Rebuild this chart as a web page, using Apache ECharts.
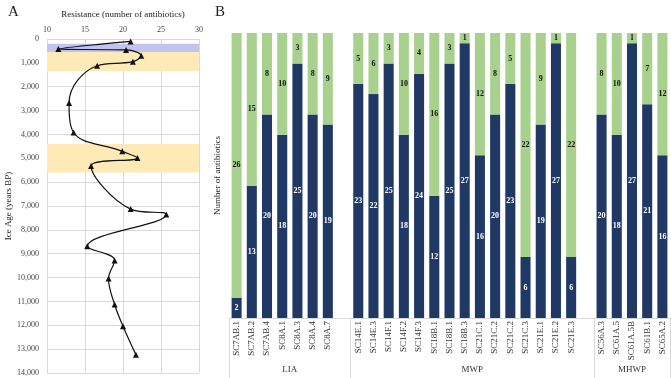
<!DOCTYPE html>
<html lang="en" style="height: 100%">
<head>
<meta charset="utf-8">
<title>Resistance profiles</title>
</head>
<body style="height: 100%; margin: 0">
<div id="container" style="height: 100%"></div>

<script type="text/javascript" src="https://cdn.jsdelivr.net/npm/echarts/dist/echarts.min.js"></script>

<script type="text/javascript">

// Panel A: resistance along the ice core
var resistance = [21, 11.5, 20.4, 22.4, 21.3, 16.6, 12.9, 13.5, 19.9, 21.9, 15.8, 21, 25.7, 15.3, 18.9, 18.1, 18.9, 20, 21.7];
var iceAge = [100, 420, 460, 700, 950, 1120, 2680, 3920, 4710, 4990, 5320, 7130, 7360, 8690, 9280, 10040, 11130, 12040, 13230];
var bandFrom = [200, 550, 4400];
var bandTo = [550, 1350, 5600];
var bandColors = ['#c3c3ef', '#feeab6', '#feeab6'];

// Panel B: resistant / susceptible counts per isolate ('' = gap between periods)
var isolates = ['SC7AB.1', 'SC7AB.2', 'SC7AB.4', 'SC8A.1', 'SC8A.3', 'SC8A.4', 'SC8A.7', '',
    'SC14E.1', 'SC14E.3', 'SC14F.1', 'SC14F.2', 'SC14F.3', 'SC18B.1', 'SC18B.1', 'SC18B.3',
    'SC21C.1', 'SC21C.2', 'SC21C.2', 'SC21C.3', 'SC21E.1', 'SC21E.2', 'SC21E.3', '',
    'SC56A.3', 'SC61A.5', 'SC61A.5B', 'SC61B.1', 'SC65A.2'];
var resistant = [2, 13, 20, 18, 25, 20, 19, null,
    23, 22, 25, 18, 24, 12, 25, 27, 16, 20, 23, 6, 19, 27, 6, null,
    20, 18, 27, 21, 16];
var susceptible = [26, 15, 8, 10, 3, 8, 9, null,
    5, 6, 3, 10, 4, 16, 3, 1, 12, 8, 5, 22, 9, 1, 22, null,
    8, 10, 1, 7, 12];
var periods = ['LIA', 'MWP', 'MHWP'];
var periodEdges = [0, 8, 24, 29];

var dom = document.getElementById('container');
var myChart = echarts.init(dom, null, { width: 671, height: 378 });

var font = 'Liberation Serif';
var grey = '#d9d9d9';

var points = resistance.map(function (r, i) { return [r, iceAge[i]]; });
var bands = bandFrom.map(function (f, i) {
    return [{ yAxis: f, itemStyle: { color: bandColors[i] } }, { yAxis: bandTo[i] }];
});
var periodCenters = periods.map(function (p, i) { return (periodEdges[i] + periodEdges[i + 1]) / 2; });

option = {
    animation: false,
    textStyle: { fontFamily: font },
    title: [
        { text: 'A', left: 3, top: 0, textStyle: { fontFamily: font, fontSize: 15, fontWeight: 'normal', color: '#222' } },
        { text: 'B', left: 210, top: 0, textStyle: { fontFamily: font, fontSize: 15, fontWeight: 'normal', color: '#222' } }
    ],
    grid: [
        { left: 47, top: 39, width: 152, height: 334 },
        { left: 229, top: 33, width: 441, height: 285 }
    ],
    xAxis: [
        {
            type: 'value', gridIndex: 0, position: 'top', min: 10, max: 30, interval: 5,
            name: 'Resistance (number of antibiotics)', nameLocation: 'middle', nameGap: 20,
            nameTextStyle: { fontFamily: font, fontSize: 9, color: '#222' },
            axisLine: { show: false }, axisTick: { show: false },
            axisLabel: { fontFamily: font, fontSize: 8, color: '#444', margin: 5 },
            splitLine: { lineStyle: { color: grey } }
        },
        {
            type: 'category', gridIndex: 1, data: isolates,
            axisLine: { lineStyle: { color: grey } },
            axisTick: { length: 45, interval: 0, lineStyle: { color: grey } },
            axisLabel: { rotate: 90, interval: 0, fontFamily: font, fontSize: 9, color: '#333', margin: 3 }
        },
        {
            type: 'value', gridIndex: 1, position: 'bottom', min: 0, max: 29,
            axisLine: { show: false },
            axisTick: { show: true, customValues: periodEdges, length: 60, lineStyle: { color: grey } },
            axisLabel: {
                customValues: periodCenters, margin: 47, fontFamily: font, fontSize: 9, color: '#333',
                formatter: function (v) { return periods[periodCenters.indexOf(v)] || ''; }
            },
            splitLine: { show: false }
        }
    ],
    yAxis: [
        {
            type: 'value', gridIndex: 0, inverse: true, min: 0, max: 14000, interval: 1000,
            name: 'Ice Age (years BP)', nameLocation: 'middle', nameGap: 32,
            nameTextStyle: { fontFamily: font, fontSize: 9, color: '#222' },
            axisLine: { show: false }, axisTick: { show: false },
            axisLabel: {
                fontFamily: font, fontSize: 8, color: '#444', margin: 8,
                formatter: function (v) { return v.toLocaleString('en-US'); }
            },
            splitLine: { lineStyle: { color: grey } }
        },
        {
            type: 'value', gridIndex: 1, min: 0, max: 28,
            name: 'Number of antibiotics', nameLocation: 'middle', nameGap: 7,
            nameTextStyle: { fontFamily: font, fontSize: 9, color: '#222' },
            axisLine: { show: false }, axisTick: { show: false },
            axisLabel: { show: false }, splitLine: { show: false }
        }
    ],
    series: [
        {
            type: 'line', xAxisIndex: 0, yAxisIndex: 0, data: points, smooth: 0.4,
            symbol: 'triangle', symbolSize: 6,
            itemStyle: { color: '#111' },
            lineStyle: { color: '#111', width: 1.2 },
            markArea: { silent: true, data: bands }
        },
        {
            type: 'bar', xAxisIndex: 1, yAxisIndex: 1, stack: 'total', data: resistant,
            barWidth: '66%', itemStyle: { color: '#203864' },
            label: { show: true, position: 'inside', color: '#fff', fontFamily: font, fontSize: 8, fontWeight: 'bold' }
        },
        {
            type: 'bar', xAxisIndex: 1, yAxisIndex: 1, stack: 'total', data: susceptible,
            barWidth: '66%', itemStyle: { color: '#a9d18e' },
            label: { show: true, position: 'inside', color: '#111', fontFamily: font, fontSize: 8, fontWeight: 'bold' }
        }
    ]
};

if (option && typeof option === 'object') {
    myChart.setOption(option);
}

window.addEventListener('resize', myChart.resize);
</script>
</body>
</html>
